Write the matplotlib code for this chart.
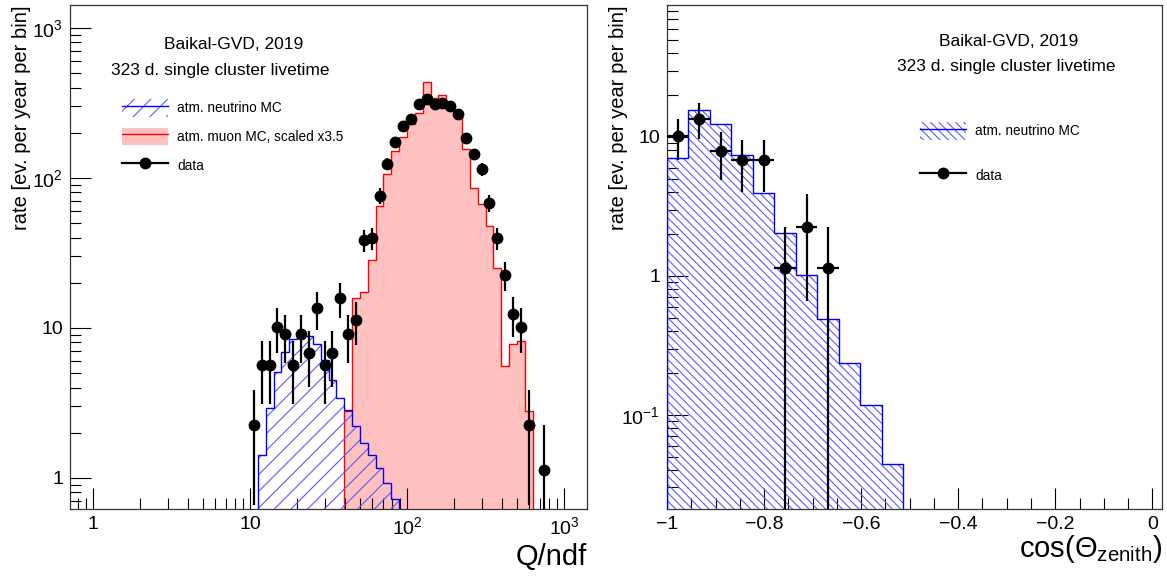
import numpy as np
import matplotlib
matplotlib.use('Agg')
import matplotlib.pyplot as plt
from matplotlib.patches import Patch
from matplotlib.lines import Line2D
from matplotlib.ticker import LogLocator, FuncFormatter, MultipleLocator, NullFormatter

plt.rcParams['font.family'] = ['Liberation Sans', 'DejaVu Sans']
plt.rcParams['mathtext.fontset'] = 'custom'
plt.rcParams['mathtext.rm'] = 'Liberation Sans'
plt.rcParams['mathtext.it'] = 'Liberation Sans:italic'
plt.rcParams['mathtext.bf'] = 'Liberation Sans:bold'
plt.rcParams['mathtext.default'] = 'regular'
plt.rcParams['hatch.linewidth'] = 0.8

# ---------------- left panel data (Q/ndf) ----------------
# atm. neutrino MC: log10 bin edges and rates
nu_q_logedges = [1.05, 1.10, 1.15, 1.20, 1.25, 1.30, 1.35, 1.40, 1.45, 1.50,
                 1.55, 1.60, 1.65, 1.70, 1.75, 1.80, 1.85, 1.90, 1.95]
nu_q_rate = [1.41, 2.93, 5.06, 6.87, 8.44, 8.79, 8.79, 7.86, 6.15,
             4.52, 3.41, 2.82, 2.21, 1.71, 1.41, 1.17, 0.93, 0.72]

# atm. muon MC (scaled x3.5): log10 bin edges and rates
mu_q_logedges = [1.60, 1.65, 1.70, 1.75, 1.80, 1.85, 1.90, 1.95, 2.00, 2.05,
                 2.10, 2.15, 2.20, 2.25, 2.30, 2.35, 2.40, 2.45, 2.50, 2.55,
                 2.60, 2.65, 2.70, 2.75, 2.80]
mu_q_rate = [2.78, 15.85, 17.4, 28.2, 65.3, 106, 150, 186, 227, 271,
             436, 341, 357, 316, 258, 156, 85.8, 67.4, 47.6, 24.9,
             5.55, 7.86, 8.23, 2.78]

# data: log10 bin centres, rates, errors
data_q_logc = [1.025, 1.075, 1.125, 1.175, 1.225, 1.275, 1.325, 1.375, 1.425,
               1.475, 1.525, 1.575, 1.625, 1.675, 1.725, 1.775, 1.825, 1.875,
               1.925, 1.975, 2.025, 2.075, 2.125, 2.175, 2.225, 2.275, 2.325,
               2.375, 2.425, 2.475, 2.525, 2.575, 2.625, 2.675, 2.725, 2.775,
               2.875]
data_q_rate = [2.26, 5.65, 5.65, 10.17, 9.04, 5.65, 9.04, 6.78, 13.56, 5.65,
               6.78, 15.82, 9.04, 11.30, 38.42, 39.55, 75.71, 124.3, 172.9,
               221.5, 245.2, 309.6, 333.4, 310.8, 316.4, 302.8, 267.8, 183.1,
               143.5, 114.1, 67.8, 39.55, 22.6, 12.43, 10.17, 2.26, 1.13]
data_q_err = [1.60, 2.53, 2.53, 3.39, 3.20, 2.53, 3.20, 2.77, 3.91, 2.53,
              2.77, 4.23, 3.20, 3.57, 6.59, 6.69, 9.25, 11.85, 13.98, 15.82,
              16.65, 18.70, 19.41, 18.74, 18.91, 18.50, 17.40, 14.38, 12.73,
              11.36, 8.75, 6.69, 5.05, 3.75, 3.39, 1.60, 1.13]

# ---------------- right panel data (cos zenith) ----------------
cz_edges = [-1.0, -0.9557, -0.9114, -0.8671, -0.8228, -0.7785, -0.7342,
            -0.6899, -0.6456, -0.6013, -0.5570, -0.5127]
nu_cz_rate = [7.0, 15.5, 12.4, 7.4, 3.95, 2.03, 1.02, 0.49, 0.235, 0.117, 0.0444]
data_cz_rate = [10.17, 13.56, 7.91, 6.78, 6.78, 1.13, 2.26, 1.13]
data_cz_err = [3.39, 3.91, 2.99, 2.77, 2.77, 1.13, 1.60, 1.13]

# ---------------- figure ----------------
W, H = 1167, 578
fig = plt.figure(figsize=(W / 100, H / 100), dpi=100)
axL = fig.add_axes([70 / W, 1 - 509 / H, 517 / W, 504 / H])
axR = fig.add_axes([667 / W, 1 - 509 / H, 495 / W, 504 / H])

HATCH_BLUE = '#5a5aff'
PINK = '#ffc0c0'


def root_log_fmt(v, pos):
    e = int(round(np.log10(v)))
    if e == 0:
        return '1'
    if e == 1:
        return '10'
    return r'$10^{%d}$' % e


for ax in (axL, axR):
    ax.set_yscale('log', nonpositive='clip')
    ax.tick_params(which='both', direction='in', top=False, right=False,
                   labelsize=14, pad=5, width=0.8)
    ax.tick_params(which='major', length=15)
    ax.tick_params(which='minor', length=8)
    for s in ax.spines.values():
        s.set_linewidth(0.9)
        s.set_color('#333333')
    ax.yaxis.set_major_locator(LogLocator(base=10, subs=(1.0,), numticks=20))
    ax.yaxis.set_minor_locator(LogLocator(base=10, subs=np.arange(2, 10), numticks=50))
    ax.yaxis.set_major_formatter(FuncFormatter(root_log_fmt))
    ax.yaxis.set_minor_formatter(NullFormatter())
    ax.set_ylabel('rate [ev. per year per bin]', fontsize=14.5, loc='top')

# ---- left ----
nu_edges = 10 ** np.array(nu_q_logedges)
mu_edges = 10 ** np.array(mu_q_logedges)
data_q = 10 ** np.array(data_q_logc)

axL.set_xscale('log', nonpositive='clip')
axL.stairs(mu_q_rate, mu_edges, baseline=1e-3, fill=True, facecolor=PINK,
           edgecolor='none', zorder=1)
axL.stairs(mu_q_rate, mu_edges, baseline=1e-3, color='red', lw=1.0, zorder=2)
axL.stairs(nu_q_rate, nu_edges, baseline=1e-3, fill=True, facecolor='none',
           edgecolor=HATCH_BLUE, hatch='//', lw=0, zorder=3)
axL.stairs(nu_q_rate, nu_edges, baseline=1e-3, color='blue', lw=1.0, zorder=4)
axL.errorbar(data_q, data_q_rate, yerr=data_q_err, fmt='o', color='black',
             ms=7.5, elinewidth=1.6, capsize=0, zorder=5)

axL.set_xlim(0.714, 1400)
axL.set_ylim(0.62, 1420)
axL.xaxis.set_major_locator(LogLocator(base=10, subs=(1.0,), numticks=20))
axL.xaxis.set_minor_locator(LogLocator(base=10, subs=np.arange(2, 10), numticks=50))
axL.xaxis.set_major_formatter(FuncFormatter(root_log_fmt))
axL.xaxis.set_minor_formatter(NullFormatter())
axL.set_xlabel('Q/ndf', fontsize=21, loc='right', labelpad=4)
axL.yaxis.set_label_coords(-0.076, 1.0)

axL.text(0.317, 0.921, 'Baikal-GVD, 2019', transform=axL.transAxes,
         ha='center', va='center', fontsize=12.5)
axL.text(0.290, 0.871, '323 d. single cluster livetime', transform=axL.transAxes,
         ha='center', va='center', fontsize=12.5)

hL = [
    (Patch(facecolor='none', edgecolor=HATCH_BLUE, hatch='//', lw=0),
     Line2D([], [], color='blue', lw=1.0)),
    (Patch(facecolor=PINK, edgecolor='none'), Line2D([], [], color='red', lw=1.0)),
    Line2D([], [], color='black', marker='o', ms=7.5, lw=1.6),
]
axL.legend(hL, ['atm. neutrino MC', 'atm. muon MC, scaled x3.5', 'data'],
           loc='upper left', bbox_to_anchor=(0.1006, 0.8135), frameon=False,
           fontsize=9.8, borderpad=0, borderaxespad=0, handlelength=3.38,
           handleheight=1.62, labelspacing=0.81, handletextpad=0.66)

# ---- right ----
cz_edges_a = np.array(cz_edges)
cz_centres = 0.5 * (cz_edges_a[:-1] + cz_edges_a[1:])[:len(data_cz_rate)]
cz_half = 0.5 * np.diff(cz_edges_a)[:len(data_cz_rate)]

axR.stairs(nu_cz_rate, cz_edges, baseline=1e-4, fill=True, facecolor='none',
           edgecolor=HATCH_BLUE, hatch='\\\\\\\\', lw=0, zorder=3)
axR.stairs(nu_cz_rate, cz_edges, baseline=1e-4, color='blue', lw=1.0, zorder=4)
axR.errorbar(cz_centres, data_cz_rate, yerr=data_cz_err, xerr=cz_half, fmt='o',
             color='black', ms=7.5, elinewidth=1.6, capsize=0, zorder=5)

axR.set_xlim(-1.0, 0.02)
axR.set_ylim(0.021, 89)
axR.xaxis.set_major_locator(MultipleLocator(0.2))
axR.xaxis.set_minor_locator(MultipleLocator(0.05))
axR.xaxis.set_major_formatter(FuncFormatter(
    lambda v, p: '0' if abs(v) < 1e-9 else ('\u22121' if abs(v + 1) < 1e-9 else ('%.1f' % v).replace('-', '\u2212'))))
axR.set_xlabel(r'cos($\Theta_{zenith}$)', fontsize=21, loc='right', labelpad=0)
axR.yaxis.set_label_coords(-0.079, 1.0)

axR.text(0.691, 0.927, 'Baikal-GVD, 2019', transform=axR.transAxes,
         ha='center', va='center', fontsize=12.5)
axR.text(0.685, 0.877, '323 d. single cluster livetime', transform=axR.transAxes,
         ha='center', va='center', fontsize=12.5)

hR = [
    (Patch(facecolor='none', edgecolor=HATCH_BLUE, hatch='\\\\\\\\', lw=0),
     Line2D([], [], color='blue', lw=1.0)),
    Line2D([], [], color='black', marker='o', ms=7.5, lw=1.6),
]
axR.legend(hR, ['atm. neutrino MC', 'data'],
           loc='upper left', bbox_to_anchor=(0.511, 0.768), frameon=False,
           fontsize=9.8, borderpad=0, borderaxespad=0, handlelength=3.38,
           handleheight=1.62, labelspacing=1.99, handletextpad=0.66)

fig.savefig('out.png', dpi=100)
